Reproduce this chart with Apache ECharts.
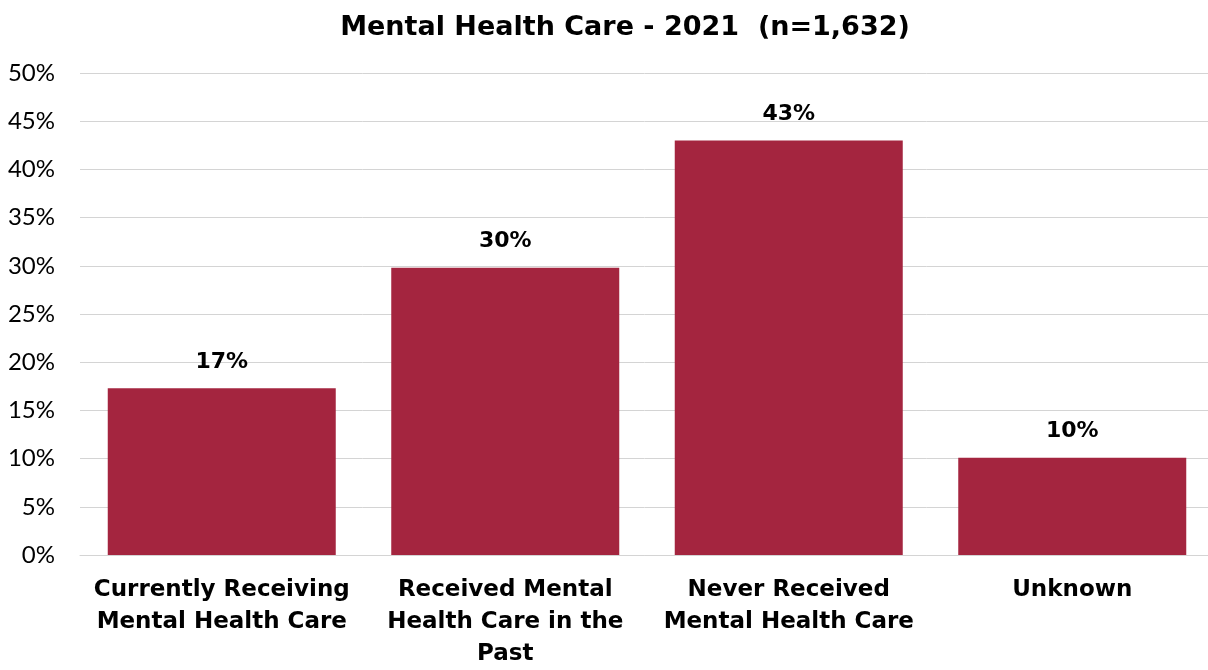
<!DOCTYPE html>
<html>
<head>
<meta charset="utf-8">
<script src="https://cdn.jsdelivr.net/npm/echarts@6/dist/echarts.min.js"></script>
<style>html,body{margin:0;padding:0;background:#fff}#c{width:1208px;height:670px}</style>
</head>
<body>
<div id="c"></div>
<script>
const categories = ["Currently Receiving\nMental Health Care", "Received Mental\nHealth Care in the\nPast", "Never Received\nMental Health Care", "Unknown"];
const values = [17.3, 29.8, 43.0, 10.1];
const labels = ["17%", "30%", "43%", "10%"];
const yTicks = [0, 5, 10, 15, 20, 25, 30, 35, 40, 45, 50];

const BOLD = "'DejaVu Sans', sans-serif";
const REG = "Lato, 'Open Sans', sans-serif";
const chart = echarts.init(document.getElementById('c'));
chart.setOption({
  animation: false,
  title: {
    text: "Mental Health Care - 2021  (n=1,632)",
    left: 620, top: 9, textAlign: 'center',
    textStyle: { fontFamily: BOLD, fontWeight: 'bold', fontSize: 27, color: '#000' }
  },
  grid: { left: 80, width: 1134, top: 73, bottom: 115, containLabel: false, outerBoundsMode: 'none' },
  xAxis: {
    type: 'category', data: categories,
    axisLine: { show: true, lineStyle: { color: '#d4d4d4', width: 1 } },
    axisTick: { show: false },
    axisLabel: { interval: 0, margin: 19, fontFamily: BOLD, fontWeight: 'bold', fontSize: 23, color: '#000', lineHeight: 32 }
  },
  yAxis: {
    type: 'value', min: 0, max: 50, interval: 5,
    axisLine: { show: false }, axisTick: { show: false },
    splitLine: { lineStyle: { color: '#d4d4d4', width: 1 } },
    axisLabel: { margin: 25, fontFamily: REG, fontSize: 24, color: '#000',
      formatter: v => yTicks.includes(v) ? v + '%' : '' }
  },
  series: [{
    type: 'bar', data: values, barWidth: 228,
    itemStyle: { color: '#A4253F' },
    label: { show: true, position: 'top', distance: 15, fontFamily: BOLD, fontWeight: 'bold', fontSize: 22, color: '#000',
      formatter: p => labels[p.dataIndex] }
  }]
});
</script>
</body>
</html>
